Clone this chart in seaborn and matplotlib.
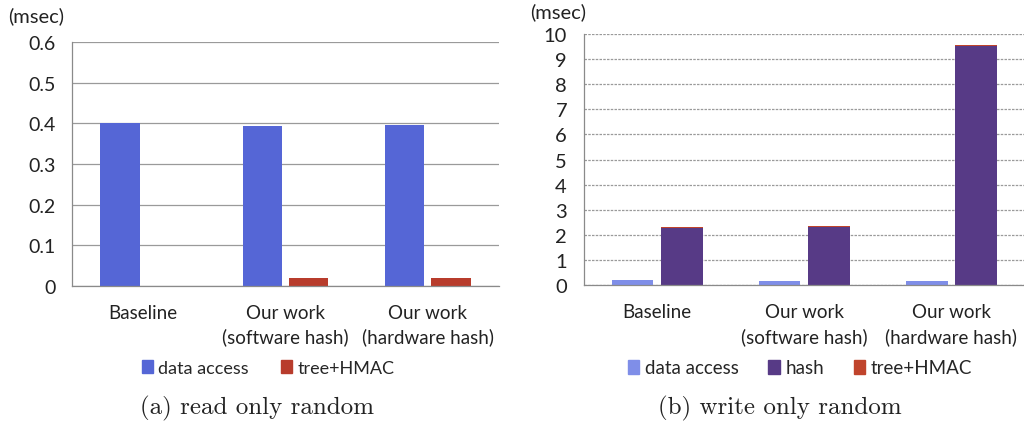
import matplotlib
matplotlib.use("Agg")
import matplotlib.pyplot as plt
import seaborn as sns
import pandas as pd
from matplotlib.patches import Patch

# data (msec)
configs = ["Baseline", "Our work\n(software hash)", "Our work\n(hardware hash)"]

read_data_access = [0.401, 0.393, 0.396]
read_tree_hmac = [0.0, 0.020, 0.019]

write_data_access = [0.20, 0.16, 0.16]
write_hash = [2.29, 2.33, 9.52]
write_tree_hmac = [0.04, 0.04, 0.05]

c_blue_a = "#5566d6"
c_red_a = "#b83c2c"
c_blue_b = "#7f8ee8"
c_purple = "#573a86"
c_red_b = "#c0442c"

sns.set_style("white")
plt.rcParams["font.family"] = ["Lato", "DejaVu Sans"]

fig = plt.figure(figsize=(10.24, 4.27), dpi=100)
ax1 = fig.add_axes([0.0703, 0.328, 0.417, 0.571])
ax2 = fig.add_axes([0.570, 0.330, 0.431, 0.588])

# ---- (a) read only random
dfa = pd.DataFrame({
    "config": configs * 2,
    "kind": ["data access"] * 3 + ["tree+HMAC"] * 3,
    "ms": read_data_access + read_tree_hmac,
})
sns.barplot(data=dfa, x="config", y="ms", hue="kind", order=configs,
            hue_order=["data access", "tree+HMAC"],
            palette=[c_blue_a, c_red_a], width=0.65, gap=0.15, saturation=1,
            linewidth=0, legend=False, ax=ax1, zorder=3)
ax1.set_ylim(0, 0.6)
ax1.set_yticks([0, 0.1, 0.2, 0.3, 0.4, 0.5, 0.6])
ax1.set_yticklabels(["0", "0.1", "0.2", "0.3", "0.4", "0.5", "0.6"])
ax1.grid(axis="y", color="#9a9a9a", linewidth=0.9, zorder=0)

# ---- (b) write only random: hash and tree+HMAC stacked
dfb_top = pd.DataFrame({
    "config": configs * 2,
    "kind": ["data access"] * 3 + ["hash"] * 3,
    "ms": write_data_access + [h + t for h, t in zip(write_hash, write_tree_hmac)],
})
dfb = pd.DataFrame({
    "config": configs * 2,
    "kind": ["data access"] * 3 + ["hash"] * 3,
    "ms": write_data_access + write_hash,
})
sns.barplot(data=dfb_top, x="config", y="ms", hue="kind", order=configs,
            hue_order=["data access", "hash"],
            palette=[c_blue_b, c_red_b], width=0.67, gap=0.16, saturation=1,
            linewidth=0, legend=False, ax=ax2, zorder=3)
sns.barplot(data=dfb, x="config", y="ms", hue="kind", order=configs,
            hue_order=["data access", "hash"],
            palette=[c_blue_b, c_purple], width=0.67, gap=0.16, saturation=1,
            linewidth=0, legend=False, ax=ax2, zorder=4)
ax2.set_ylim(0, 10)
ax2.set_yticks(range(0, 11))
ax2.grid(axis="y", color="#9a9a9a", linewidth=0.9, linestyle=(0, (2, 1)), zorder=0)

for ax, ysize in [(ax1, 14), (ax2, 14.5)]:
    ax.set_xlim(-0.5, 2.5)
    ax.set_xlabel("")
    ax.set_ylabel("")
    for s in ["top", "right"]:
        ax.spines[s].set_visible(False)
    for s in ["left", "bottom"]:
        ax.spines[s].set_color("#8a8a8a")
        ax.spines[s].set_linewidth(0.9)
        ax.spines[s].set_zorder(5)
    ax.set_xticks([-0.5, 0.5, 1.5, 2.5], minor=True)
    ax.tick_params(axis="x", which="major", length=0, labelsize=13.5, pad=13,
                   colors="#222222")
    ax.tick_params(axis="x", which="minor", length=5, color="#8a8a8a", direction="out")
    ax.tick_params(axis="y", length=5, color="#8a8a8a", direction="out",
                   labelsize=ysize, colors="#222222", pad=7)
    ax.set_xticklabels(configs, linespacing=1.45)

# legends
ax1.legend(handles=[Patch(color=c_blue_a, label="data access"),
                    Patch(color=c_red_a, label="tree+HMAC")],
           loc="center", bbox_to_anchor=(0.46, -0.335), ncol=2, frameon=False,
           fontsize=13, handlelength=0.6, handleheight=0.8, handletextpad=0.3,
           columnspacing=1.8)
ax2.legend(handles=[Patch(color=c_blue_b, label="data access"),
                    Patch(color=c_purple, label="hash"),
                    Patch(color=c_red_b, label="tree+HMAC")],
           loc="center", bbox_to_anchor=(0.49, -0.33), ncol=3, frameon=False,
           fontsize=13.5, handlelength=0.6, handleheight=0.8, handletextpad=0.3,
           columnspacing=1.6)

# unit labels
fig.text(0.008, 0.962, "(msec)", fontsize=14.5, color="#222222", va="center")
fig.text(0.518, 0.972, "(msec)", fontsize=14.5, color="#222222", va="center")

# captions
fig.text(0.251, 0.043, "(a) read only random", fontsize=18, family="cmr10",
         ha="center", va="center", color="#222222")
fig.text(0.762, 0.043, "(b) write only random", fontsize=18, family="cmr10",
         ha="center", va="center", color="#222222")

fig.savefig("out.png", dpi=100)
